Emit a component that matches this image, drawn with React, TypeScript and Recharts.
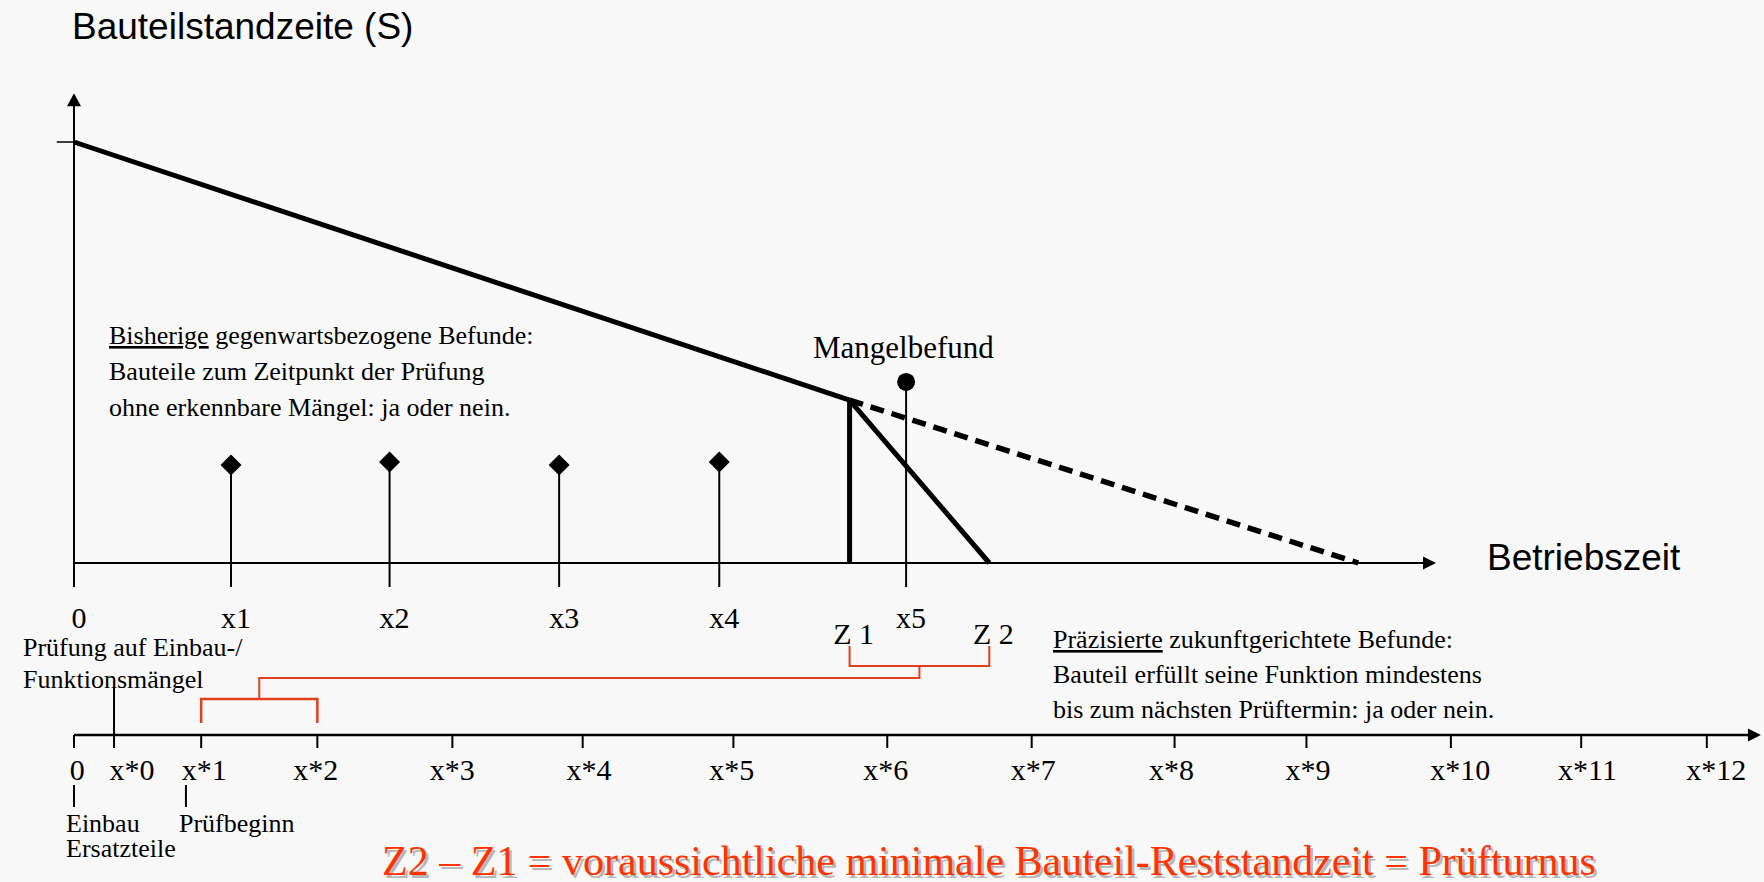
import React from 'react';
import { ComposedChart, Line, Scatter, XAxis, YAxis, ReferenceLine } from 'recharts';

const W = 1764;
const H = 882;
const SERIF = '"Liberation Serif", "Times New Roman", Times, serif';
const SANS = '"Liberation Sans", Arial, Helvetica, sans-serif';
const RED = '#ff3300';
const BRACKET = '#e2401c';

// Betriebszeit (t) in units of the first inspection interval, Standzeit (s) in % of new part
const PROBE_LABELS = ['x1', 'x2', 'x3', 'x4'];
const PROBE_T = [1.0, 2.01, 3.09, 4.11];
const PROBE_S = [23.3, 24.0, 23.3, 24.0];

const DEFECT_LABEL = 'x5';
const DEFECT_T = 5.3;
const DEFECT_S = 43;

const Z_LABELS = ['Z 1', 'Z 2'];
const Z_T = [4.94, 5.83];

const LIFE_T = [0, 4.94];
const LIFE_S = [100, 38.7];
const FORECAST_T = [4.94, 8.18];
const FORECAST_S = [38.7, 0];
const ACTUAL_T = [4.94, 5.83];
const ACTUAL_S = [38.7, 0];

const S_START = 100;
const S_AXIS_TOP = 111.6;
const STEM_BOTTOM = -5.7;
const T_ARROW = 8.675;

// lower time line: Prüftermine x*0 .. x*12
const TURNUS_LABELS = ['0', 'x*0', 'x*1', 'x*2', 'x*3', 'x*4', 'x*5', 'x*6', 'x*7', 'x*8', 'x*9', 'x*10', 'x*11', 'x*12'];
const TURNUS_T = [0, 0.255, 0.81, 1.55, 2.41, 3.24, 4.2, 5.18, 6.1, 7.01, 7.85, 8.77, 9.6, 10.4];
const TURNUS_LABEL_T = [0.02, 0.37, 0.83, 1.54, 2.41, 3.28, 4.19, 5.17, 6.11, 6.99, 7.86, 8.83, 9.64, 10.46];
const P_ARROW = 10.745;
const START_MARK_T = [0, 0.713];

// bracket levels on the time-line lane (0 = time line)
const BRACKET_TOP = 8.9;
const BRACKET_BAR = 6.9;
const BRACKET_JOIN = 5.7;
const TURNUS_BAR = 3.6;
const TURNUS_LEG = 1.2;

// pixel mapping of the hidden axes
const T_PX = 157;
const T_ORIGIN = 74;
const S_PX = 4.21;
const S_BASE = 563;
const P_PX = 10;
const P_BASE = 735;
const tDomain = [-T_ORIGIN / T_PX, (W - T_ORIGIN) / T_PX];
const sDomain = [-(H - S_BASE) / S_PX, S_BASE / S_PX];
const pDomain = [-(H - P_BASE) / P_PX, P_BASE / P_PX];

const pts = (ts: number[], vs: number[], key: string) => ts.map((t, i) => ({ t, [key]: vs[i] }));

const probes = PROBE_T.map((t, i) => ({ t, s: PROBE_S[i], label: PROBE_LABELS[i] }));
const upperLabels = [{ t: 0, s: 0, label: '0' }, ...probes.map((d) => ({ ...d, s: 0 })), { t: DEFECT_T, s: 0, label: DEFECT_LABEL }];
const zLabels = Z_T.map((t, i) => ({ t, s: 0, label: Z_LABELS[i] }));
const turnusLabels = TURNUS_LABEL_T.map((t, i) => ({ t, p: 0, label: TURNUS_LABELS[i] }));

const zMid = (Z_T[0] + Z_T[1]) / 2;
const turnusMid = (TURNUS_T[2] + TURNUS_T[3]) / 2;
const zBracket = [
  { t: Z_T[0], p: BRACKET_TOP },
  { t: Z_T[0], p: BRACKET_BAR },
  { t: Z_T[1], p: BRACKET_BAR },
  { t: Z_T[1], p: BRACKET_TOP },
];
const joinLine = [
  { t: zMid, p: BRACKET_BAR },
  { t: zMid, p: BRACKET_JOIN },
  { t: turnusMid, p: BRACKET_JOIN },
  { t: turnusMid, p: TURNUS_BAR },
];
const turnusBracket = [
  { t: TURNUS_T[2], p: TURNUS_LEG },
  { t: TURNUS_T[2], p: TURNUS_BAR },
  { t: TURNUS_T[3], p: TURNUS_BAR },
  { t: TURNUS_T[3], p: TURNUS_LEG },
];

const Diamond = (props: any) => {
  const { cx, cy } = props;
  const r = 10.5;
  return <polygon points={`${cx},${cy - r} ${cx + r},${cy} ${cx},${cy + r} ${cx - r},${cy}`} fill="#000" />;
};

const Dot = (props: any) => <circle cx={props.cx} cy={props.cy} r={9} fill="#000" />;

const ArrowRight = (props: any) => {
  const { cx, cy } = props;
  return <polygon points={`${cx - 13},${cy - 6.5} ${cx},${cy} ${cx - 13},${cy + 6.5}`} fill="#000" />;
};

const ArrowUp = (props: any) => {
  const { cx, cy } = props;
  return <polygon points={`${cx - 7},${cy + 13} ${cx},${cy} ${cx + 7},${cy + 13}`} fill="#000" />;
};

const textShape = (dx: number, dy: number, size: number) => (props: any) => (
  <text x={props.cx + dx} y={props.cy + dy} textAnchor="middle" fontSize={size} fontFamily={SERIF} fill="#000">
    {props.payload.label}
  </text>
);

const seg = (x1: number, y1: number, x2: number, y2: number) => [
  { x: x1, y: y1 },
  { x: x2, y: y2 },
];

const Overlay = () => (
  <svg width={W} height={H} style={{ position: 'absolute', left: 0, top: 0, pointerEvents: 'none' }}>
    <text x={72} y={39} fontFamily={SANS} fontSize={37} fill="#000">Bauteilstandzeite (S)</text>
    <text x={1487} y={570} fontFamily={SANS} fontSize={37} fill="#000">Betriebszeit</text>
    <text x={813} y={358} fontFamily={SERIF} fontSize={31} fill="#000">Mangelbefund</text>

    <g fontFamily={SERIF} fontSize={26} fill="#000">
      <text x={109} y={344}>
        <tspan style={{ textDecoration: 'underline' }}>Bisherige</tspan> gegenwartsbezogene Befunde:
      </text>
      <text x={109} y={380}>Bauteile zum Zeitpunkt der Prüfung</text>
      <text x={109} y={416}>ohne erkennbare Mängel: ja oder nein.</text>

      <text x={1053} y={648}>
        <tspan style={{ textDecoration: 'underline' }}>Präzisierte</tspan> zukunftgerichtete Befunde:
      </text>
      <text x={1053} y={683}>Bauteil erfüllt seine Funktion mindestens</text>
      <text x={1053} y={718}>bis zum nächsten Prüftermin: ja oder nein.</text>

      <text x={23} y={656}>Prüfung auf Einbau-/</text>
      <text x={23} y={688}>Funktionsmängel</text>
      <text x={66} y={832}>Einbau</text>
      <text x={66} y={857}>Ersatzteile</text>
      <text x={179} y={832}>Prüfbeginn</text>
    </g>

    <text x={384.5} y={877.5} fontFamily={SERIF} fontSize={42} fill="#b8b8b8">
      Z2 – Z1 = voraussichtliche minimale Bauteil-Reststandzeit = Prüfturnus
    </text>
    <text x={382} y={875} fontFamily={SERIF} fontSize={42} fill={RED}>
      Z2 – Z1 = voraussichtliche minimale Bauteil-Reststandzeit = Prüfturnus
    </text>
  </svg>
);

export default function App() {
  return (
    <div style={{ position: 'absolute', left: 0, top: 0, width: W, height: H, background: '#f8f8f8', overflow: 'hidden' }}>
      <ComposedChart width={W} height={H} margin={{ top: 0, right: 0, bottom: 0, left: 0 }}>
        <XAxis dataKey="t" type="number" domain={tDomain} allowDataOverflow hide />
        <YAxis yAxisId="s" dataKey="s" type="number" domain={sDomain} allowDataOverflow hide />
        <YAxis yAxisId="p" dataKey="p" type="number" domain={pDomain} allowDataOverflow hide />

        {/* upper axes */}
        <ReferenceLine yAxisId="s" segment={seg(0, STEM_BOTTOM, 0, S_AXIS_TOP - 2)} stroke="#000" strokeWidth={2} />
        <ReferenceLine yAxisId="s" segment={seg(-0.11, S_START, 0, S_START)} stroke="#000" strokeWidth={1.5} />
        <ReferenceLine yAxisId="s" segment={seg(0, 0, T_ARROW - 0.03, 0)} stroke="#000" strokeWidth={2} />

        {/* inspection stems */}
        {probes.map((d) => (
          <ReferenceLine key={d.label} yAxisId="s" segment={seg(d.t, STEM_BOTTOM, d.t, d.s)} stroke="#000" strokeWidth={2} />
        ))}
        <ReferenceLine yAxisId="s" segment={seg(DEFECT_T, STEM_BOTTOM, DEFECT_T, DEFECT_S)} stroke="#000" strokeWidth={2} />

        {/* Standzeit curves */}
        <Line yAxisId="s" data={pts(LIFE_T, LIFE_S, 's')} dataKey="s" type="linear" stroke="#000" strokeWidth={5} dot={false} activeDot={false} isAnimationActive={false} />
        <Line yAxisId="s" data={pts(FORECAST_T, FORECAST_S, 's')} dataKey="s" type="linear" stroke="#000" strokeWidth={5.5} strokeDasharray="14 8" dot={false} activeDot={false} isAnimationActive={false} />
        <Line yAxisId="s" data={pts(ACTUAL_T, ACTUAL_S, 's')} dataKey="s" type="linear" stroke="#000" strokeWidth={5} dot={false} activeDot={false} isAnimationActive={false} />
        <Line yAxisId="s" data={pts([Z_T[0], Z_T[0]], [LIFE_S[1], 0], 's')} dataKey="s" type="linear" stroke="#000" strokeWidth={5} dot={false} activeDot={false} isAnimationActive={false} />

        <Scatter yAxisId="s" data={probes} shape={Diamond} isAnimationActive={false} />
        <Scatter yAxisId="s" data={[{ t: DEFECT_T, s: DEFECT_S }]} shape={Dot} isAnimationActive={false} />
        <Scatter yAxisId="s" data={[{ t: T_ARROW, s: 0 }]} shape={ArrowRight} isAnimationActive={false} />
        <Scatter yAxisId="s" data={[{ t: 0, s: S_AXIS_TOP }]} shape={ArrowUp} isAnimationActive={false} />
        <Scatter yAxisId="s" data={upperLabels} shape={textShape(5, 65, 30)} isAnimationActive={false} />
        <Scatter yAxisId="s" data={zLabels} shape={textShape(4, 81, 30)} isAnimationActive={false} />

        {/* lower Prüfturnus time line */}
        <ReferenceLine yAxisId="p" segment={seg(0, 0, P_ARROW - 0.03, 0)} stroke="#000" strokeWidth={2.5} />
        {TURNUS_T.map((t, i) =>
          i === 1 ? (
            <ReferenceLine key={i} yAxisId="p" segment={seg(t, 4.7, t, -1.3)} stroke="#000" strokeWidth={2} />
          ) : (
            <ReferenceLine key={i} yAxisId="p" segment={seg(t, 0, t, -1.3)} stroke="#000" strokeWidth={2} />
          )
        )}
        {START_MARK_T.map((t) => (
          <ReferenceLine key={`m${t}`} yAxisId="p" segment={seg(t, -5, t, -7.2)} stroke="#000" strokeWidth={2} />
        ))}
        <Scatter yAxisId="p" data={[{ t: P_ARROW, p: 0 }]} shape={ArrowRight} isAnimationActive={false} />
        <Scatter yAxisId="p" data={turnusLabels} shape={textShape(0, 45, 30)} isAnimationActive={false} />

        {/* brackets */}
        <Line yAxisId="p" data={zBracket} dataKey="p" type="linear" stroke={BRACKET} strokeWidth={2} dot={false} activeDot={false} isAnimationActive={false} />
        <Line yAxisId="p" data={joinLine} dataKey="p" type="linear" stroke={BRACKET} strokeWidth={2} dot={false} activeDot={false} isAnimationActive={false} />
        <Line yAxisId="p" data={turnusBracket} dataKey="p" type="linear" stroke={BRACKET} strokeWidth={2.5} dot={false} activeDot={false} isAnimationActive={false} />
      </ComposedChart>
      <Overlay />
    </div>
  );
}
